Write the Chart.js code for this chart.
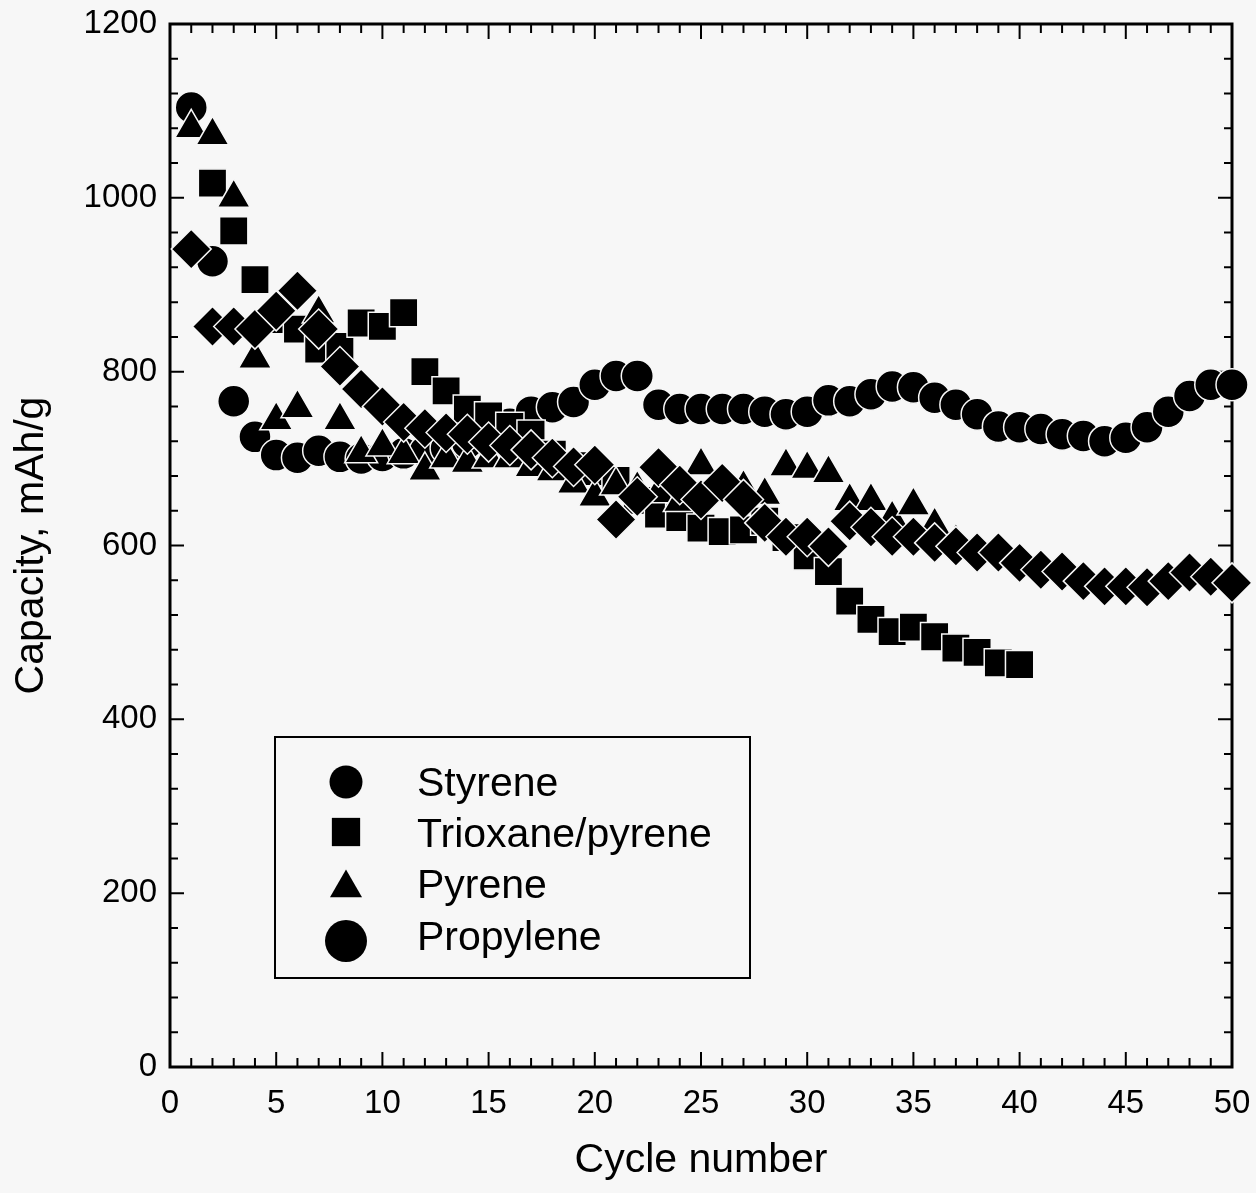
<!DOCTYPE html>
<html>
<head>
<meta charset="utf-8">
<script src="https://cdn.jsdelivr.net/npm/chart.js@4.4.1/dist/chart.umd.min.js"></script>
<style>
html,body{margin:0;padding:0;background:#f7f7f7;}
canvas{display:block;}
</style>
</head>
<body>
<canvas id="c" width="1256" height="1193"></canvas>
<script>
// ---------- data ----------
const seriesNames = ['Styrene', 'Trioxane/pyrene', 'Pyrene', 'Propylene'];

const styreneCycles = [1,2,3,4,5,6,7,8,9,10,11,12,13,14,15,16,17,18,19,20,21,22,23,24,25,26,27,28,29,30,31,32,33,34,35,36,37,38,39,40,41,42,43,44,45,46,47,48,49,50];
const styreneValues = [941,852,852,849,870,893,849,806,780,760,742,735,730,728,719,715,710,701,691,693,630,656,690,670,653,672,653,626,610,610,599,628,621,610,610,603,599,592,592,580,572,570,559,553,553,552,559,569,564,557];

const trioxaneCycles = [2,3,4,5,6,7,8,9,10,11,12,13,14,15,16,17,18,19,20,21,22,23,24,25,26,27,28,29,30,31,32,33,34,35,36,37,38,39,40];
const trioxaneValues = [1017,962,906,860,849,826,829,856,852,868,800,778,757,749,737,728,705,692,685,675,652,636,632,620,616,618,628,609,588,570,536,515,501,506,495,482,477,465,463];

const pyreneCycles = [1,2,3,4,5,6,7,8,9,10,11,12,13,14,15,16,17,18,19,20,21,22,23,24,25,26,27,28,29,30,31,32,33,34,35,36,37];
const pyreneValues = [1080,1072,1000,815,744,758,867,744,706,714,705,686,700,695,700,700,690,685,671,656,669,665,660,650,692,670,666,658,691,688,683,651,651,631,646,623,604];

const propyleneCycles = [1,2,3,4,5,6,7,8,9,10,11,12,13,14,15,16,17,18,19,20,21,22,23,24,25,26,27,28,29,30,31,32,33,34,35,36,37,38,39,40,41,42,43,44,45,46,47,48,49,50];
const propyleneValues = [1104,927,766,725,704,701,709,702,700,703,706,708,712,718,726,740,754,759,765,785,795,795,762,757,757,757,757,754,751,754,767,766,774,783,782,770,762,751,737,736,734,728,726,720,724,736,754,772,785,785];

const xTickLabels = [0,5,10,15,20,25,30,35,40,45,50];
const yTickLabels = [0,200,400,600,800,1000,1200];
const xTitle = 'Cycle number';
const yTitle = 'Capacity, mAh/g';

// ---------- styling ----------
const FONT = "Arial, 'Liberation Sans', Helvetica, sans-serif";
const BG = '#f7f7f7';
Chart.defaults.font.family = FONT;
Chart.defaults.color = '#000';

const toPts = (xs, ys) => xs.map((c, i) => ({x: c, y: ys[i]}));

const datasets = [
  {label: seriesNames[0], data: toPts(styreneCycles, styreneValues), pointStyle: 'rectRot', pointRadius: 20, order: 0},
  {label: seriesNames[1], data: toPts(trioxaneCycles, trioxaneValues), pointStyle: 'rect', pointRadius: 20, order: 2},
  {label: seriesNames[2], data: toPts(pyreneCycles, pyreneValues), pointStyle: 'triangle', pointRadius: 19, order: 1},
  {label: seriesNames[3], data: toPts(propyleneCycles, propyleneValues), pointStyle: 'circle', pointRadius: 16, order: 3}
].map(d => Object.assign(d, {
  backgroundColor: '#000',
  pointBackgroundColor: '#000',
  pointBorderColor: BG,
  pointBorderWidth: 1.5,
  pointHoverRadius: d.pointRadius,
  showLine: false,
  clip: false
}));

// legend marker look (as in the reference legend)
const legendMarkers = [
  {pointStyle: 'circle', radius: 16.5},
  {pointStyle: 'rect', radius: 20},
  {pointStyle: 'triangle', radius: 18.5},
  {pointStyle: 'circle', radius: 21}
];

// frame with inward ticks on all four sides
const frameTicks = {
  id: 'frameTicks',
  beforeDatasetsDraw(chart) {
    const {ctx, chartArea: a, scales: {x, y}} = chart;
    ctx.save();
    ctx.strokeStyle = '#000';
    ctx.lineWidth = 3;
    ctx.strokeRect(a.left, a.top, a.right - a.left, a.bottom - a.top);
    ctx.lineWidth = 2;
    ctx.beginPath();
    for (let v = x.min; v <= x.max; v += 1) {
      const p = x.getPixelForValue(v);
      const L = (v % 5 === 0) ? 15 : 9;
      ctx.moveTo(p, a.bottom); ctx.lineTo(p, a.bottom - L);
      ctx.moveTo(p, a.top); ctx.lineTo(p, a.top + L);
    }
    for (let v = y.min; v <= y.max; v += 40) {
      const p = y.getPixelForValue(v);
      const L = (v % 200 === 0) ? 14 : 8;
      ctx.moveTo(a.left, p); ctx.lineTo(a.left + L, p);
      ctx.moveTo(a.right, p); ctx.lineTo(a.right - L, p);
    }
    ctx.stroke();
    ctx.restore();
  }
};

// boxed legend inside the plot area
const boxLegend = {
  id: 'boxLegend',
  afterDraw(chart) {
    const {ctx, chartArea: a} = chart;
    const bx = a.left + 105, by = a.top + 713, bw = 475, bh = 241;
    ctx.save();
    ctx.fillStyle = BG;
    ctx.fillRect(bx, by, bw, bh);
    ctx.strokeStyle = '#000';
    ctx.lineWidth = 2;
    ctx.strokeRect(bx, by, bw, bh);
    const rowsBase = [59, 110, 161, 213];
    const markerY = [45, 95, 151, 204];
    ctx.font = "41px " + FONT;
    ctx.textAlign = 'left';
    ctx.textBaseline = 'alphabetic';
    chart.data.datasets.forEach((ds, i) => {
      ctx.fillStyle = '#000';
      ctx.strokeStyle = BG;
      Chart.helpers.drawPoint(ctx, {pointStyle: legendMarkers[i].pointStyle, radius: legendMarkers[i].radius, rotation: 0, borderWidth: 0}, bx + 71, by + markerY[i]);
      ctx.fillStyle = '#000';
      ctx.fillText(ds.label, bx + 142, by + rowsBase[i]);
    });
    ctx.restore();
  }
};

new Chart(document.getElementById('c'), {
  type: 'scatter',
  data: {datasets},
  options: {
    responsive: false,
    animation: false,
    events: [],
    layout: {padding: {top: 24, right: 24, left: 0, bottom: 0}},
    plugins: {legend: {display: false}, tooltip: {enabled: false}},
    scales: {
      x: {
        type: 'linear', min: 0, max: 50,
        afterBuildTicks(s) { s.ticks = xTickLabels.map(v => ({value: v})); },
        ticks: {font: {size: 33}, color: '#000', padding: 17, maxRotation: 0, autoSkip: false, callback: v => String(v)},
        grid: {display: false, drawTicks: false},
        border: {display: false},
        title: {display: true, text: xTitle, font: {size: 41}, color: '#000', padding: {top: 0, bottom: 8}},
        afterFit(s) { s.height = 126; s.paddingLeft = 0; s.paddingRight = 0; }
      },
      y: {
        type: 'linear', min: 0, max: 1200,
        afterBuildTicks(s) { s.ticks = yTickLabels.map(v => ({value: v})); },
        ticks: {font: {size: 33}, color: '#000', padding: 13, autoSkip: false, callback: v => String(v)},
        grid: {display: false, drawTicks: false},
        border: {display: false},
        title: {display: true, text: yTitle, font: {size: 41}, color: '#000', padding: {top: 7, bottom: 0}},
        afterFit(s) { s.width = 170; s.paddingTop = 0; s.paddingBottom = 0; }
      }
    }
  },
  plugins: [frameTicks, boxLegend]
});
</script>
</body>
</html>
